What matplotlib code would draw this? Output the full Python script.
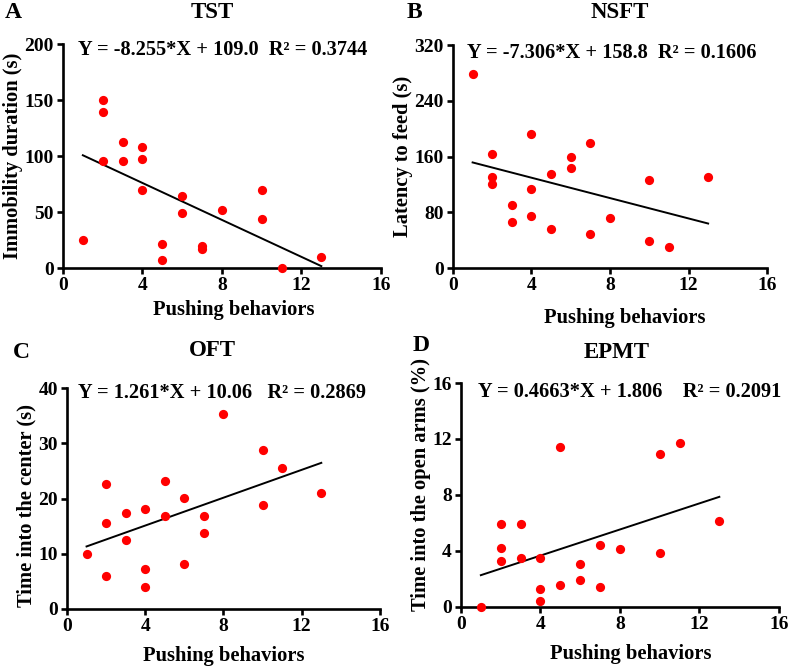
import matplotlib

matplotlib.use("Agg")

import matplotlib.pyplot as plt
import numpy as np

plt.rcParams["font.family"] = ["Liberation Serif", "DejaVu Serif"]
plt.rcParams["font.weight"] = "bold"

# Pushing behaviors per mouse (same animals in all four tests)
pushing = [1, 2, 2, 2, 3, 3, 4, 4, 4, 5, 5, 6, 6, 7, 7, 8, 10, 10, 11, 13]

# Data
tst = [25, 150, 139, 96, 113, 95.5, 108, 97, 69.5, 21.5, 7.5, 64, 49, 19.5, 16.7, 51.5, 69.5, 44, 0, 9.6]
nsft = [278, 163, 130, 121, 90, 66, 192, 114, 75, 135, 55.6, 159.5, 144, 179, 48.4, 72, 126, 38.3, 30.7, 130]
oft = [10, 22.7, 15.5, 6.0, 17.3, 12.5, 18.1, 7.3, 3.9, 23.2, 16.8, 20.1, 8.1, 16.8, 13.8, 35.3, 28.8, 18.8, 25.6, 21.0]
epmt = [0, 5.93, 4.2, 3.25, 5.93, 3.5, 3.47, 1.29, 0.45, 11.4, 1.58, 3.06, 1.94, 4.43, 1.44, 4.14, 10.9, 3.83, 11.7, 6.15]

# Reported linear regressions
slopes = [-8.255, -7.306, 1.261, 0.4663]
intercepts = [109.0, 158.8, 10.06, 1.806]
equations = [
    "Y = -8.255*X + 109.0  R\u00b2 = 0.3744",
    "Y = -7.306*X + 158.8  R\u00b2 = 0.1606",
    "Y = 1.261*X + 10.06   R\u00b2 = 0.2869",
    "Y = 0.4663*X + 1.806    R\u00b2 = 0.2091",
]
titles = ["TST", "NSFT", "OFT", "EPMT"]
letters = ["A", "B", "C", "D"]
ylabels = [
    "Immobility duration (s)",
    "Latency to feed (s)",
    "Time into the center (s)",
    "Time into the open arms (%)",
]
yticks = [
    [0, 50, 100, 150, 200],
    [0, 80, 160, 240, 320],
    [0, 10, 20, 30, 40],
    [0, 4, 8, 12, 16],
]
xticks = [0, 4, 8, 12, 16]

fig = plt.figure(figsize=(7.9, 6.69), dpi=100)

rects = [
    [0.0797, 0.5994, 0.4025, 0.3346],
    [0.5734, 0.5994, 0.3975, 0.3333],
    [0.0848, 0.0897, 0.3962, 0.3303],
    [0.5835, 0.0927, 0.4025, 0.3348],
]
# figure-pixel positions of letters, titles and equations
letter_pos = [(5, 13), (407, 13), (13, 353), (413, 345)]
title_pos = [(212, 13), (620, 13), (212, 350), (617, 352)]
eq_pos = [(78, 50), (467, 53), (78, 393), (478, 392)]
# label placement
xlab_x = [0.538, 0.548, 0.5, 0.535]
xlab_pad = [4, 10, 8, 8]
ylab_y = [0.5, 0.5, 0.47, 0.545]

series = [tst, nsft, oft, epmt]
W, H = 790, 669

for i in range(4):
    ax = fig.add_axes(rects[i])
    ax.scatter(pushing, series[i], s=44, color="#ff0000", zorder=3, clip_on=False, linewidths=0)
    xl = np.array([min(pushing), max(pushing)])
    ax.plot(xl, slopes[i] * xl + intercepts[i], color="black", lw=1.4, zorder=2)
    ax.set_xlim(0, 16)
    ax.set_ylim(yticks[i][0], yticks[i][-1])
    ax.set_xticks(xticks)
    ax.set_yticks(yticks[i])
    for s in ["top", "right"]:
        ax.spines[s].set_visible(False)
    for s in ["left", "bottom"]:
        ax.spines[s].set_linewidth(1.9)
    ax.tick_params(width=1.9, length=4.5, labelsize=14, pad=2)
    for lab in ax.get_xticklabels() + ax.get_yticklabels():
        lab.set_fontweight("bold")
    ax.set_xlabel("Pushing behaviors", fontsize=14.8, fontweight="bold", labelpad=xlab_pad[i])
    ax.set_ylabel(ylabels[i], fontsize=14.8, fontweight="bold", labelpad=1)
    ax.xaxis.label.set_x(xlab_x[i])
    ax.yaxis.label.set_y(ylab_y[i])

    fig.text(letter_pos[i][0] / W, 1 - letter_pos[i][1] / H, letters[i],
             fontsize=17, fontweight="bold", ha="left", va="center")
    fig.text(title_pos[i][0] / W, 1 - title_pos[i][1] / H, titles[i],
             fontsize=16.5, fontweight="bold", ha="center", va="center")
    fig.text(eq_pos[i][0] / W, 1 - eq_pos[i][1] / H, equations[i],
             fontsize=14.7, fontweight="bold", ha="left", va="center")

fig.savefig("out.png", dpi=100)
